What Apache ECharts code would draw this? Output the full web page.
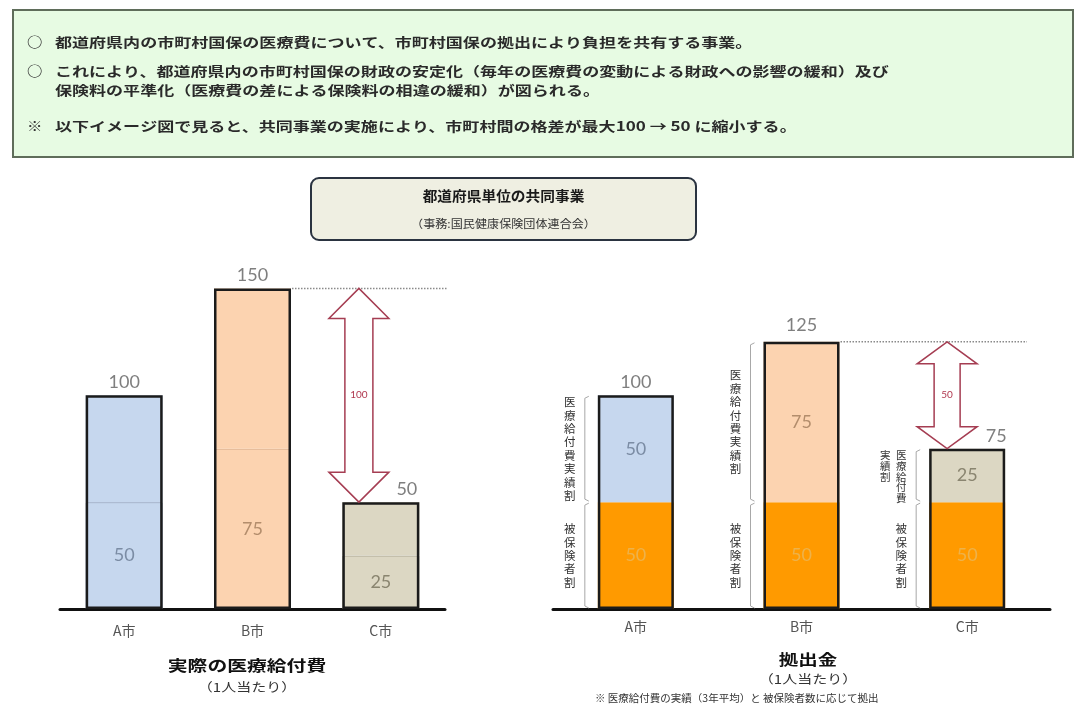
<!DOCTYPE html>
<html><head><meta charset="utf-8">
<script src="https://cdn.jsdelivr.net/npm/echarts@6/dist/echarts.min.js"></script>
<style>html,body{margin:0;padding:0;background:#fff}#c{width:1081px;height:722px}</style>
</head><body><div id="c"></div>
<script>
// ---------- data ----------
const categories = ['A市', 'B市', 'C市'];
// left: actual medical benefit per person
const actualLower = [50, 75, 25];
const actualUpper = [50, 75, 25];
const actualTotal = [100, 150, 50];
// right: contributions per person
const insuredShare = [50, 50, 50];
const benefitShare = [50, 75, 25];
const contribTotal = [100, 125, 75];
// gap annotations: [from category index, to category index, label]
const gapActual = [1, 2, 100];
const gapContrib = [1, 2, 50];
const benefitShareName = '医療給付費実績割';
const insuredShareName = '被保険者割';
const introLines = [
  ['○', '都道府県内の市町村国保の医療費について、市町村国保の拠出により負担を共有する事業。'],
  ['○', 'これにより、都道府県内の市町村国保の財政の安定化（毎年の医療費の変動による財政への影響の緩和）及び'],
  ['', '保険料の平準化（医療費の差による保険料の相違の緩和）が図られる。'],
  ['※', '以下イメージ図で見ると、共同事業の実施により、市町村間の格差が最大100 → 50 に縮小する。']
];

// ---------- styles ----------
const cityColors = ['#c6d7ee', '#fcd3b0', '#dcd7c3'];
const cityLines = ['#98a8c0', '#dcae88', '#b2ac98'];
const cityLabel = ['#7b8ca4', '#b38d6c', '#8a8570'];
const orange = '#ff9a00';
const JP = '"Noto Sans CJK JP", sans-serif';
const NUM = 'Lato, "Noto Sans", sans-serif';
const SCALE_MAX = 160;

const chart = echarts.init(document.getElementById('c'), null, {renderer: 'canvas'});

function overlay(data, xi, bw, offsets) {
  return {
    type: 'bar', xAxisIndex: xi, yAxisIndex: xi, barWidth: bw, barGap: '-100%', z: 5,
    data: data.map((v, i) => ({value: v, label: {offset: offsets[i]}})),
    itemStyle: {color: 'rgba(0,0,0,0)', borderColor: '#1b1b1b', borderWidth: 2.5},
    label: {show: true, position: 'top', distance: 4, color: '#7f7f7f', fontSize: 18, fontFamily: NUM},
    silent: true
  };
}

function segment(data, colors, lineColors, labelColors, showLabel) {
  return data.map((v, i) => ({
    value: v,
    itemStyle: Object.assign({color: colors[i]}, lineColors ? {borderColor: lineColors[i], borderWidth: 1} : {}),
    label: {show: showLabel, color: labelColors ? labelColors[i] : '#eeb24a', textBorderWidth: 0}
  }));
}

function gapSeries(xi, gap, totals, bw, offsetFrac, head, headW, shaftW, lineExtra) {
  return {
    type: 'custom', xAxisIndex: xi, yAxisIndex: xi, z: 6, silent: true,
    data: [[gap[0], gap[1], totals[gap[0]], totals[gap[1]], gap[2]]],
    renderItem: function (params, api) {
      const pFrom = api.coord([api.value(0), api.value(2)]);
      const pTo = api.coord([api.value(1), api.value(3)]);
      const band = api.size([1, 0])[0];
      const cs = params.coordSys;
      const cx = pTo[0] + offsetFrac * band;
      const y1 = pFrom[1], y2 = pTo[1];
      const hw = headW / 2, sw = shaftW / 2;
      const pts = [[cx, y1], [cx + hw, y1 + head], [cx + sw, y1 + head], [cx + sw, y2 - head],
        [cx + hw, y2 - head], [cx, y2], [cx - hw, y2 - head], [cx - sw, y2 - head],
        [cx - sw, y1 + head], [cx - hw, y1 + head]];
      return {
        type: 'group', children: [
          {type: 'line', shape: {x1: pFrom[0] + bw / 2 + 1, y1: y1, x2: cs.x + cs.width + lineExtra, y2: y1},
            style: {stroke: '#8a8a8a', lineWidth: 1.5, lineDash: [1.5, 1.5]}},
          {type: 'polygon', shape: {points: pts}, style: {fill: '#ffffff', stroke: '#a53d52', lineWidth: 1.5}},
          {type: 'text', x: cx, y: (y1 + y2) / 2, style: {text: String(api.value(4)), fill: '#b0384f',
            font: '10px ' + NUM, align: 'center', verticalAlign: 'middle'}}
        ]
      };
    }
  };
}

function verticalLabel(text, xRight, yTop, yBot) {
  const segH = yBot - yTop;
  const chars = text.split('');
  let lh = 13.4, perCol = chars.length;
  if (chars.length * lh > segH + 4) { lh = 10.8; perCol = Math.round(segH / lh); }
  const cols = [];
  for (let i = 0; i < chars.length; i += perCol) cols.push(chars.slice(i, i + perCol));
  const out = [];
  cols.forEach((col, ci) => {
    const h = col.length * lh;
    const top = cols.length > 1 ? yTop + 1 : (yTop + yBot) / 2 - h / 2;
    out.push({type: 'text', x: xRight - ci * 16, y: top,
      style: {text: col.join('\n'), lineHeight: lh, font: (cols.length > 1 ? '10.5px ' : '11.5px ') + JP, fill: '#333', align: 'center', verticalAlign: 'top'}});
  });
  return out;
}

function brace(x, y1, y2) {
  return {type: 'polyline', shape: {points: [[x + 4, y1 + 1], [x, y1 + 3], [x, y2 - 3], [x + 4, y2 - 1]]},
    style: {stroke: '#a8a8a8', lineWidth: 1, fill: null}};
}

const bracketSeries = {
  type: 'custom', xAxisIndex: 1, yAxisIndex: 1, z: 4, silent: true,
  data: categories.map((c, i) => [i, insuredShare[i], contribTotal[i]]),
  renderItem: function (params, api) {
    const pMid = api.coord([api.value(0), api.value(1)]);
    const pTop = api.coord([api.value(0), api.value(2)]);
    const pBase = api.coord([api.value(0), 0]);
    const barLeft = pMid[0] - 38;
    const bx = barLeft - 13;
    const tx = barLeft - 28;
    return {type: 'group', children: [
      brace(bx, pTop[1], pMid[1]),
      brace(bx, pMid[1], pBase[1]),
      ...verticalLabel(benefitShareName, tx, pTop[1], pMid[1]),
      ...verticalLabel(insuredShareName, tx, pMid[1], pBase[1])
    ]};
  }
};

const xAxisBase = {
  type: 'category', data: categories,
  axisLine: {lineStyle: {color: '#111', width: 3}},
  axisTick: {show: false},
  axisLabel: {color: '#555', fontSize: 14, fontFamily: JP}
};

function txt(x, y, text, font, fill, align, sx) {
  return {type: 'text', x: x, y: y, scaleX: sx || 1,
    style: {text: text, font: font, fill: fill, align: align || 'center', verticalAlign: 'middle'}};
}

const graphics = [
  {type: 'rect', shape: {x: 13, y: 10, width: 1060, height: 147}, style: {fill: '#e7fbe3', stroke: '#5f6d5a', lineWidth: 2}, z: 0},
  {type: 'rect', shape: {x: 311, y: 178, width: 385, height: 62, r: 8}, style: {fill: '#efefe2', stroke: '#2a3340', lineWidth: 2}},
  txt(503.5, 196, '都道府県単位の共同事業', 'bold 14px ' + JP, '#1a1a1a', 'center', 1.05),
  txt(503.5, 224, '（事務:国民健康保険団体連合会）', '11px ' + JP, '#333', 'center', 1.1),
  txt(247, 665, '実際の医療給付費', 'bold 15px ' + JP, '#111', 'center', 1.32),
  txt(247, 687, '（1人当たり）', '12px ' + JP, '#333', 'center', 1.25),
  txt(808, 659, '拠出金', 'bold 15px ' + JP, '#111', 'center', 1.3),
  txt(808, 679, '（1人当たり）', '12px ' + JP, '#333', 'center', 1.25),
  txt(595, 698, '※ 医療給付費の実績（3年平均）と 被保険者数に応じて拠出', '10px ' + JP, '#333', 'left', 1.05)
];
const lineYs = [42, 71, 90, 126];
introLines.forEach((l, i) => {
  if (l[0]) graphics.push(txt(27, lineYs[i], l[0], 'bold 14px ' + JP, '#333', 'left', 1.1));
  graphics.push(txt(55, lineYs[i], l[1], 'bold 13px ' + JP, '#2a2a2a', 'left', 1.31));
});

const option = {
  animation: false,
  backgroundColor: '#ffffff',
  grid: [
    {left: 60, width: 385, top: 267, height: 342},
    {left: 553, width: 497, top: 267, height: 342}
  ],
  xAxis: [
    Object.assign({gridIndex: 0}, xAxisBase, {axisLabel: Object.assign({}, xAxisBase.axisLabel, {margin: 15})}),
    Object.assign({gridIndex: 1}, xAxisBase, {axisLabel: Object.assign({}, xAxisBase.axisLabel, {margin: 11})})
  ],
  yAxis: [
    {gridIndex: 0, type: 'value', min: 0, max: SCALE_MAX, show: false},
    {gridIndex: 1, type: 'value', min: 0, max: SCALE_MAX, show: false}
  ],
  graphic: graphics,
  series: [
    {type: 'bar', xAxisIndex: 0, yAxisIndex: 0, stack: 'L', barWidth: 77, barGap: '-100%',
      data: segment(actualLower, cityColors, cityLines, cityLabel, true),
      label: {position: 'inside', fontSize: 18, fontFamily: NUM}},
    {type: 'bar', xAxisIndex: 0, yAxisIndex: 0, stack: 'L', barWidth: 77, barGap: '-100%',
      data: segment(actualUpper, cityColors, null, cityLabel, false)},
    overlay(actualTotal, 0, 77, [[0, 0], [0, 0], [26, 0]]),
    gapSeries(0, gapActual, actualTotal, 77, -0.171, 30, 60, 28, 3),
    {type: 'bar', xAxisIndex: 1, yAxisIndex: 1, stack: 'R', barWidth: 76, barGap: '-100%',
      data: segment(insuredShare, [orange, orange, orange], null, null, true),
      label: {position: 'inside', fontSize: 18, fontFamily: NUM}},
    {type: 'bar', xAxisIndex: 1, yAxisIndex: 1, stack: 'R', barWidth: 76, barGap: '-100%',
      data: segment(benefitShare, cityColors, null, cityLabel, true),
      label: {position: 'inside', fontSize: 18, fontFamily: NUM}},
    overlay(contribTotal, 1, 76, [[0, 0], [0, -4], [29, 0]]),
    gapSeries(1, gapContrib, contribTotal, 76, -0.121, 22, 60, 26, -23),
    bracketSeries
  ]
};
chart.setOption(option);
</script>
</body></html>
